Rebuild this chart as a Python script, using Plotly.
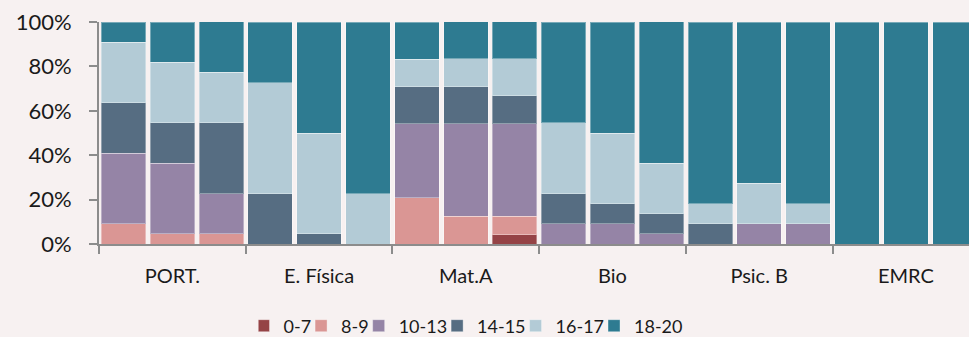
import plotly.graph_objects as go

groups = ["PORT.", "E. Física", "Mat.A", "Bio", "Psic. B", "EMRC"]
bars_per_group = 3
series_names = ["0-7", "8-9", "10-13", "14-15", "16-17", "18-20"]
series_colors = ["#954346", "#DA9694", "#9584A6", "#566D82", "#B3CBD6", "#2E7B91"]

# percentages per bar (18 bars: 3 per group)
v_0_7   = [0, 0, 0,     0, 0, 0,        0, 0, 4.17,       0, 0, 0,          0, 0, 0,        0, 0, 0]
v_8_9   = [9.09, 4.55, 4.55, 0, 0, 0,   20.83, 12.5, 8.33, 0, 0, 0,         0, 0, 0,        0, 0, 0]
v_10_13 = [31.82, 31.82, 18.18, 0, 0, 0, 33.33, 41.67, 41.67, 9.09, 9.09, 4.55, 0, 9.09, 9.09, 0, 0, 0]
v_14_15 = [22.73, 18.18, 31.82, 22.73, 4.55, 0, 16.67, 16.67, 12.5, 13.64, 9.09, 9.09, 9.09, 0, 0, 0, 0, 0]
v_16_17 = [27.27, 27.27, 22.73, 50.0, 45.45, 22.73, 12.5, 12.5, 16.67, 31.82, 31.82, 22.73, 9.09, 18.18, 9.09, 0, 0, 0]
v_18_20 = [9.09, 18.18, 22.73, 27.27, 50.0, 77.27, 16.67, 16.67, 16.67, 45.45, 50.0, 63.64, 81.82, 72.73, 81.82, 100, 100, 100]

series_values = [v_0_7, v_8_9, v_10_13, v_14_15, v_16_17, v_18_20]
y_ticks = [0, 20, 40, 60, 80, 100]

n_bars = len(groups) * bars_per_group
xpos = list(range(n_bars))
group_centers = [g * bars_per_group + (bars_per_group - 1) / 2 for g in range(len(groups))]
group_bounds = [g * bars_per_group - 0.5 for g in range(len(groups) + 1)]

W, H = 969, 337
FONT = "Lato, 'Open Sans', sans-serif"
BG = "#F7F1F1"
AX = "#8C8C8C"

fig = go.Figure()
for name, color, vals in zip(series_names, series_colors, series_values):
    fig.add_trace(go.Bar(
        x=xpos, y=vals, name=name,
        marker=dict(color=color, line=dict(color="rgba(255,255,255,0.35)", width=1)),
        hovertemplate="%{y:.1f}%<extra>" + name + "</extra>",
    ))

fig.update_layout(
    width=W, height=H,
    barmode="stack", bargap=0.09,
    paper_bgcolor=BG, plot_bgcolor=BG,
    margin=dict(l=99, r=0, t=22, b=93, autoexpand=False),
    font=dict(family=FONT, color="#1a1a1a"),
    showlegend=True,
    legend=dict(
        orientation="h", xref="container", yref="container",
        x=473 / W, xanchor="center", y=1 - 326 / H, yanchor="middle",
        font=dict(size=18, family=FONT), traceorder="normal",
        indentation=-15,
        bgcolor="rgba(0,0,0,0)", borderwidth=0,
    ),
    xaxis=dict(
        range=[-0.5, -0.5 + (W - 99) / 48.9],
        tickmode="array", tickvals=group_centers, ticktext=groups,
        ticks="", showgrid=False, zeroline=False,
        showline=True, linecolor=AX, linewidth=2,
        tickfont=dict(size=20, family=FONT), ticklabelstandoff=13,
        minor=dict(tickmode="array", tickvals=group_bounds, ticks="outside",
                   ticklen=8, tickwidth=2, tickcolor=AX, showgrid=False),
        automargin=False, fixedrange=True,
    ),
    yaxis=dict(
        range=[0, 100], tickmode="array", tickvals=y_ticks,
        ticktext=[f"{t}%" for t in y_ticks],
        ticks="outside", ticklen=8, tickwidth=2, tickcolor=AX,
        showline=True, linecolor=AX, linewidth=2,
        showgrid=False, zeroline=False,
        tickfont=dict(size=22, family=FONT), ticklabelstandoff=13,
        automargin=False, fixedrange=True,
    ),
)

fig.write_html(
    "out.html",
    config={"displayModeBar": False},
    post_script="document.body.style.margin='0';document.body.style.background='" + BG + "';",
)
